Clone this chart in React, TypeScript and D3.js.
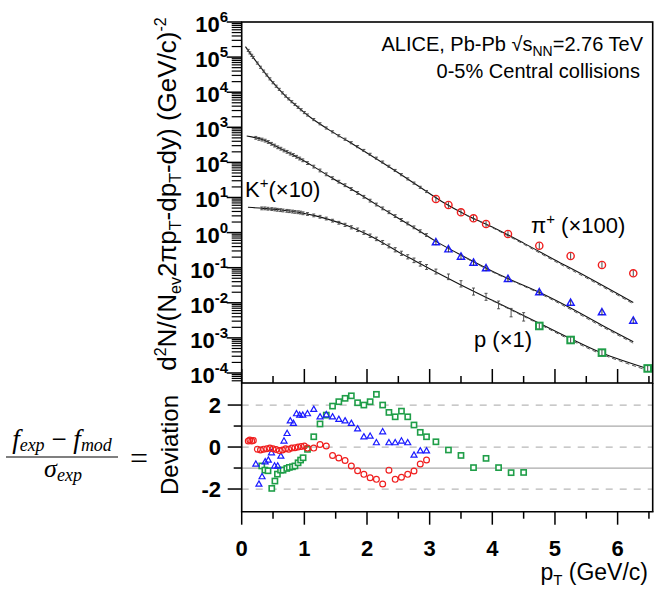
import React from 'react';
import * as d3 from 'd3';

// ---------------- DATA ----------------
// x axis ticks
const xMajorTicks = [0, 1, 2, 3, 4, 5, 6];
const xMinorTicks = [0.5, 1.5, 2.5, 3.5, 4.5, 5.5, 6.5];
const yExponents = [6, 5, 4, 3, 2, 1, 0, -1, -2, -3, -4];
const devMajorTicks = [2, 0, -2];
const devMinorTicks = [1, -1];
const devDashed = [2, 0, -2];
const devSolid = [1, -1];

// Model curves: pT and log10(yield)
const piModelPt = [0.06, 0.2, 0.35, 0.5, 0.7, 0.9, 1.1, 1.4, 1.7, 2.0, 2.4, 2.8, 3.2, 3.6, 4.0, 4.5, 5.0, 5.5, 6.25];
const piModelLog = [5.30, 4.95, 4.60, 4.27, 3.89, 3.57, 3.28, 2.92, 2.60, 2.27, 1.82, 1.35, 0.88, 0.49, 0.16, -0.30, -0.78, -1.25, -1.99];
const piModel2Pt = [3.6, 4.0, 4.5, 5.0, 5.5, 6.25];
const piModel2Log = [0.48, 0.14, -0.33, -0.82, -1.29, -2.03];

const kModelPt = [0.08, 0.35, 0.6, 0.9, 1.15, 1.4, 1.7, 1.95, 2.2, 2.5, 2.85, 3.1, 3.5, 4.0, 4.25, 4.75, 5.25, 5.75, 6.25];
const kModelLog = [2.75, 2.64, 2.41, 2.14, 1.88, 1.60, 1.29, 1.02, 0.74, 0.41, 0.03, -0.25, -0.64, -1.10, -1.31, -1.70, -2.15, -2.64, -3.11];
const kModel2Pt = [3.5, 4.0, 4.75, 5.25, 5.75, 6.25];
const kModel2Log = [-0.65, -1.12, -1.73, -2.19, -2.68, -3.15];

const pModelPt = [0.1, 0.35, 0.6, 0.9, 1.15, 1.4, 1.7, 2.0, 2.25, 2.5, 2.75, 3.0, 3.5, 4.0, 4.75, 5.25, 5.75, 6.52];
const pModelLog = [0.72, 0.69, 0.65, 0.58, 0.49, 0.37, 0.19, -0.05, -0.29, -0.55, -0.79, -1.03, -1.49, -1.93, -2.58, -3.02, -3.43, -3.90];
const pModel2Pt = [4.0, 4.75, 5.25, 5.75, 6.52];
const pModel2Log = [-1.94, -2.61, -3.06, -3.47, -3.95];

// Measured spectra (black points), pT and log10(yield)
const piPt = [0.105, 0.13, 0.16, 0.185, 0.25, 0.30, 0.35, 0.40, 0.45, 0.50, 0.55, 0.60, 0.65, 0.70, 0.75, 0.80, 0.85, 0.90, 0.95, 1.00,
  1.05, 1.15, 1.25, 1.35, 1.45, 1.55, 1.65, 1.75, 1.85, 1.95, 2.05, 2.15, 2.25, 2.35, 2.45, 2.55, 2.65, 2.75, 2.85, 2.95];
const piLog = [5.19, 5.12, 5.05, 4.99, 4.83, 4.71, 4.60, 4.49, 4.38, 4.27, 4.17, 4.08, 3.98, 3.89, 3.81, 3.73, 3.65, 3.57, 3.50, 3.42,
  3.35, 3.22, 3.10, 2.98, 2.87, 2.76, 2.66, 2.56, 2.45, 2.34, 2.23, 2.12, 2.01, 1.89, 1.77, 1.65, 1.53, 1.41, 1.29, 1.17];
const piDev = [0.29, 0.33, 0.29, 0.31, -0.10, -0.14, -0.10, -0.08, -0.05, -0.08, -0.12, -0.17, -0.14, -0.08, -0.10, -0.05, -0.03, 0.00, 0.03, 0.05,
  -0.05, -0.05, 0.12, 0.05, -0.40, -0.52, -0.64, -0.90, -1.13, -1.30, -1.46, -1.54, -1.76, -1.10, -1.54, -1.44, -1.30, -1.14, -0.81, -0.62];

const kPt = [0.225, 0.275, 0.325, 0.375, 0.425, 0.475, 0.525, 0.575, 0.625, 0.675, 0.725, 0.775, 0.825, 0.875, 0.925, 0.975,
  1.05, 1.15, 1.25, 1.35, 1.45, 1.55, 1.65, 1.75, 1.85, 1.95, 2.05, 2.15, 2.25, 2.35, 2.45, 2.55, 2.65, 2.75, 2.85, 2.95];
const kLog = [2.70, 2.67, 2.65, 2.62, 2.58, 2.53, 2.48, 2.43, 2.39, 2.34, 2.30, 2.25, 2.21, 2.16, 2.11, 2.06,
  1.98, 1.88, 1.77, 1.66, 1.55, 1.45, 1.35, 1.24, 1.13, 1.02, 0.91, 0.80, 0.69, 0.58, 0.47, 0.36, 0.26, 0.15, 0.04, -0.07];
const kDev = [-0.81, -1.76, -1.41, -0.70, -0.62, -0.27, -0.90, -0.90, -0.43, 0.29, 0.65, 1.25, 1.13, 1.59, 1.52, 1.52,
  1.59, 1.80, 1.44, 1.54, 1.44, 1.32, 1.25, 1.13, 0.87, 0.49, 0.52, 0.21, 0.73, 0.21, 0.21, 0.29, 0.21, -0.38, -0.18, -0.18];

const pPt = [0.32, 0.37, 0.42, 0.48, 0.53, 0.57, 0.62, 0.66, 0.72, 0.76, 0.81, 0.85, 0.90, 0.94, 0.98,
  1.05, 1.15, 1.25, 1.35, 1.45, 1.55, 1.65, 1.75, 1.85, 1.95, 2.05, 2.15, 2.25, 2.35, 2.45, 2.55, 2.65, 2.75, 2.85, 2.95,
  3.1, 3.3, 3.5, 3.7, 3.9, 4.1, 4.3, 4.5];
const pLog = [0.69, 0.69, 0.68, 0.67, 0.66, 0.65, 0.64, 0.63, 0.62, 0.61, 0.60, 0.59, 0.58, 0.57, 0.55,
  0.53, 0.49, 0.45, 0.40, 0.34, 0.28, 0.22, 0.15, 0.08, 0.00, -0.09, -0.18, -0.28, -0.38, -0.49, -0.59, -0.69, -0.79, -0.89, -0.98,
  -1.11, -1.26, -1.46, -1.68, -1.83, -2.06, -2.28, -2.40];
const pDev = [-0.90, -1.10, -1.13, -1.97, -1.62, -1.29, -1.10, -1.10, -1.02, -0.97, -0.94, -0.90, -0.75, -0.62, -0.51,
  -0.11, 0.49, 1.10, 1.52, 1.95, 2.16, 2.32, 2.44, 2.11, 2.00, 2.16, 2.51, 2.00, 1.65, 1.44, 1.71, 1.44, 1.05, 0.70, 0.49,
  0.25, -0.14, -0.40, -0.98, -0.54, -0.98, -1.22, -1.21];
const pErrLog = [0.04, 0.04, 0.04, 0.04, 0.04, 0.04, 0.04, 0.04, 0.04, 0.04, 0.04, 0.04, 0.04, 0.04, 0.04,
  0.04, 0.04, 0.04, 0.04, 0.04, 0.04, 0.045, 0.045, 0.05, 0.05, 0.05, 0.05, 0.055, 0.055, 0.06, 0.06, 0.06, 0.065, 0.065, 0.07,
  0.07, 0.08, 0.09, 0.1, 0.1, 0.11, 0.12, 0.12];

// High-pT measured points (coloured markers)
const piHiPt = [3.1, 3.3, 3.5, 3.7, 3.9, 4.25, 4.75, 5.25, 5.75, 6.25];
const piHiLog = [0.957, 0.786, 0.578, 0.407, 0.245, -0.040, -0.373, -0.667, -0.923, -1.160];
const kHiPt = [3.1, 3.3, 3.5, 3.7, 3.9, 4.25, 4.75, 5.25, 5.75, 6.25];
const kHiLog = [-0.276, -0.476, -0.686, -0.857, -1.017, -1.322, -1.70, -2.00, -2.27, -2.51];
const pHiPt = [4.75, 5.25, 5.75, 6.48];
const pHiLog = [-2.66, -3.06, -3.42, -3.87];

// ---------------- LAYOUT ----------------
const W = 655, H = 590;
const X0 = 241.7, X1 = 652.7;
const T0 = 22, T1 = 383, B1 = 511.7;
const RED = '#f01e1e', BLUE = '#1a1aff', GREEN = '#1f9e48';
const SANS = "'Liberation Sans', Arial, sans-serif";
const SERIF = "'Liberation Serif', 'Times New Roman', serif";

const x = d3.scaleLinear().domain([0, 6.56]).range([X0, X1]);
const yT = d3.scaleLog().domain([Math.pow(10, -4.285), 1e6]).range([T1, T0]);
const yD = d3.scaleLinear().domain([-3.08, 3.05]).range([B1, T1]);
const pw = (l: number) => Math.pow(10, l);

function modelPath(pts: number[], logs: number[]) {
  const data = pts.map((p, i) => [p, logs[i]] as [number, number]);
  return d3.line<[number, number]>().x(d => x(d[0])).y(d => yT(pw(d[1]))).curve(d3.curveCatmullRom.alpha(0.5))(data) || '';
}

function ErrBars({ pts, logs, err }: { pts: number[]; logs: number[]; err: (i: number) => number }) {
  return (
    <g stroke="#444" strokeWidth={0.9} fill="none">
      {pts.map((p, i) => {
        const cx = x(p);
        const y1 = yT(pw(logs[i] + err(i)));
        const y2 = yT(pw(logs[i] - err(i)));
        return (
          <g key={i}>
            <line x1={cx} x2={cx} y1={y1} y2={y2} />
            <line x1={cx - 1.5} x2={cx + 1.5} y1={y1} y2={y1} />
            <line x1={cx - 1.5} x2={cx + 1.5} y1={y2} y2={y2} />
          </g>
        );
      })}
    </g>
  );
}

function Marker({ kind, cx, cy, s, color, sw }: { kind: string; cx: number; cy: number; s: number; color: string; sw: number }) {
  if (kind === 'circle') return <circle cx={cx} cy={cy} r={s} fill="none" stroke={color} strokeWidth={sw} />;
  if (kind === 'tri') {
    const d = `M${cx},${cy - s * 1.05}L${cx + s},${cy + s * 0.7}L${cx - s},${cy + s * 0.7}Z`;
    return <path d={d} fill="none" stroke={color} strokeWidth={sw} strokeLinejoin="miter" />;
  }
  return <rect x={cx - s} y={cy - s} width={2 * s} height={2 * s} fill="#fff" stroke={color} strokeWidth={sw} />;
}

export default function App() {
  const minorLog: number[] = [];
  for (let e = -5; e <= 5; e++) {
    for (let m = 2; m <= 9; m++) {
      const v = m * Math.pow(10, e);
      if (v > yT.domain()[0] && v < 1e6) minorLog.push(v);
    }
  }

  const hiSeries = [
    { pts: piHiPt, logs: piHiLog, kind: 'circle', color: RED, s: 3.6, sw: 1.4 },
    { pts: kHiPt, logs: kHiLog, kind: 'tri', color: BLUE, s: 3.6, sw: 1.4 },
    { pts: pHiPt, logs: pHiLog, kind: 'square', color: GREEN, s: 3.3, sw: 2 },
  ];
  const devSeries = [
    { pts: pPt, dev: pDev, kind: 'square', color: GREEN, s: 2.6, sw: 1.6 },
    { pts: kPt, dev: kDev, kind: 'tri', color: BLUE, s: 3.0, sw: 1.2 },
    { pts: piPt, dev: piDev, kind: 'circle', color: RED, s: 2.9, sw: 1.2 },
  ];

  return (
    <svg width={W} height={H} style={{ position: 'absolute', left: 0, top: 0, background: '#fff' }} fontFamily={SANS}>
      <rect width={W} height={H} fill="#fff" />

      {/* ---------- bottom panel grid ---------- */}
      {devDashed.map(v => (
        <line key={'dd' + v} x1={X0} x2={X1} y1={yD(v)} y2={yD(v)} stroke="#b8b8b8" strokeWidth={1.2} strokeDasharray="7,7" />
      ))}
      {devSolid.map(v => (
        <line key={'ds' + v} x1={X0} x2={X1} y1={yD(v)} y2={yD(v)} stroke="#aaaaaa" strokeWidth={1.2} />
      ))}

      {/* ---------- model curves ---------- */}
      <g fill="none" stroke="#111" strokeWidth={1.1}>
        <path d={modelPath(piModelPt, piModelLog)} />
        <path d={modelPath(kModelPt, kModelLog)} />
        <path d={modelPath(pModelPt, pModelLog)} />
      </g>
      <g fill="none" stroke="#555" strokeWidth={1.0} strokeDasharray="4,3">
        <path d={modelPath(piModel2Pt, piModel2Log)} />
        <path d={modelPath(kModel2Pt, kModel2Log)} />
        <path d={modelPath(pModel2Pt, pModel2Log)} />
      </g>

      {/* ---------- measured points ---------- */}
      <ErrBars pts={piPt} logs={piLog} err={() => 0.03} />
      <ErrBars pts={kPt} logs={kLog} err={() => 0.04} />
      <ErrBars pts={pPt} logs={pLog} err={i => pErrLog[i]} />

      {hiSeries.map((s, si) => (
        <g key={'hs' + si}>
          {s.pts.map((p, i) => {
            const cx = x(p), cy = yT(pw(s.logs[i]));
            return (
              <g key={i}>
                <Marker kind={s.kind} cx={cx} cy={cy} s={s.s} color={s.color} sw={s.sw} />
                <line x1={cx} x2={cx} y1={cy - s.s * 0.8} y2={cy + s.s * 0.8} stroke="#333" strokeWidth={0.9} />
              </g>
            );
          })}
        </g>
      ))}

      {devSeries.map((s, si) => (
        <g key={'ds' + si}>
          {s.pts.map((p, i) => (
            <Marker key={i} kind={s.kind} cx={x(p)} cy={yD(s.dev[i])} s={s.s} color={s.color} sw={s.sw} />
          ))}
        </g>
      ))}

      {/* ---------- frames ---------- */}
      <rect x={X0} y={T0} width={X1 - X0} height={T1 - T0} fill="none" stroke="#000" strokeWidth={1.6} />
      <line x1={X0} x2={X0} y1={T1} y2={B1} stroke="#000" strokeWidth={1.6} />
      <line x1={X1} x2={X1} y1={T1} y2={B1} stroke="#000" strokeWidth={1.6} />
      <line x1={X0 - 0.8} x2={X1 + 0.8} y1={B1} y2={B1} stroke="#000" strokeWidth={1.6} />

      {/* top panel y ticks */}
      <g stroke="#000">
        {yExponents.map(e => (
          <line key={'ym' + e} x1={X0 - 15} x2={X0} y1={yT(pw(e))} y2={yT(pw(e))} strokeWidth={1.5} />
        ))}
        {minorLog.map((v, i) => (
          <line key={'yn' + i} x1={X0 - 10} x2={X0} y1={yT(v)} y2={yT(v)} strokeWidth={1.2} />
        ))}
      </g>
      <g fontWeight="bold" fontSize={22} textAnchor="end">
        {yExponents.map(e => (
          <text key={'yl' + e} x={228} y={yT(pw(e)) + 10}>
            10<tspan fontSize={15} dy={-10}>{e}</tspan>
          </text>
        ))}
      </g>

      {/* top panel bottom-edge ticks (inside) */}
      <g stroke="#000" strokeWidth={1.5}>
        {xMajorTicks.map(t => <line key={'tt' + t} x1={x(t)} x2={x(t)} y1={T1} y2={T1 - 14} />)}
        {xMinorTicks.map(t => <line key={'tn' + t} x1={x(t)} x2={x(t)} y1={T1} y2={T1 - 7} />)}
      </g>

      {/* bottom x axis ticks */}
      <g stroke="#000" strokeWidth={1.5}>
        {xMajorTicks.map(t => <line key={'bt' + t} x1={x(t)} x2={x(t)} y1={B1} y2={B1 + 13} />)}
        {xMinorTicks.map(t => <line key={'bn' + t} x1={x(t)} x2={x(t)} y1={B1} y2={B1 + 7} />)}
      </g>
      <g fontWeight="bold" fontSize={22} textAnchor="middle">
        {xMajorTicks.map(t => <text key={'bl' + t} x={x(t)} y={556}>{t}</text>)}
      </g>

      {/* deviation y ticks */}
      <g stroke="#000" strokeWidth={1.5}>
        {devMajorTicks.map(v => <line key={'dm' + v} x1={X0 - 14} x2={X0} y1={yD(v)} y2={yD(v)} />)}
        {devMinorTicks.map(v => <line key={'dn' + v} x1={X0 - 8} x2={X0} y1={yD(v)} y2={yD(v)} />)}
      </g>
      <g fontWeight="bold" fontSize={22} textAnchor="end">
        {devMajorTicks.map(v => <text key={'dl' + v} x={221} y={yD(v) + 8}>{v}</text>)}
      </g>

      {/* axis titles */}
      <text transform="translate(176,194) rotate(-90)" textAnchor="middle" fontSize={26}>
        d<tspan fontSize={16} dy={-10}>2</tspan><tspan dy={10}>N/(N</tspan><tspan fontSize={16} dy={5}>ev</tspan>
        <tspan dy={-5}>2πp</tspan><tspan fontSize={16} dy={5}>T</tspan><tspan dy={-5}>-dp</tspan>
        <tspan fontSize={16} dy={5}>T</tspan><tspan dy={-5}>-dy)  (GeV/c)</tspan><tspan fontSize={16} dy={-10}>-2</tspan>
      </text>
      <text transform="translate(178,445) rotate(-90)" textAnchor="middle" fontSize={24}>Deviation</text>
      <text x={648} y={580} textAnchor="end" fontSize={23}>
        p<tspan fontSize={15} dy={5}>T</tspan><tspan dy={-5}> (GeV/c)</tspan>
      </text>

      {/* formula */}
      <text x={62} y={448} textAnchor="middle" fontFamily={SERIF} fontStyle="italic" fontSize={27} xmlSpace="preserve">
        f<tspan fontSize={18} dy={3}>exp</tspan><tspan dy={-3} fontStyle="normal">{' − '}</tspan>f<tspan fontSize={18} dy={3}>mod</tspan>
      </text>
      <line x1={6} x2={118} y1={457} y2={457} stroke="#000" strokeWidth={1.1} />
      <text x={63} y={477} textAnchor="middle" fontFamily={SERIF} fontStyle="italic" fontSize={26}>
        σ<tspan fontSize={18} dy={4}>exp</tspan>
      </text>
      <text x={139} y={469} textAnchor="middle" fontFamily={SERIF} fontSize={32}>=</text>

      {/* annotations */}
      <text x={643} y={51} textAnchor="end" fontSize={20}>
        ALICE, Pb-Pb √s<tspan fontSize={14} dy={5}>NN</tspan><tspan dy={-5}>=2.76 TeV</tspan>
      </text>
      <text x={640} y={78} textAnchor="end" fontSize={20}>0-5% Central collisions</text>
      <text x={245} y={197} fontSize={22}>
        K<tspan fontSize={15} dy={-9}>+</tspan><tspan dy={9}>(×10)</tspan>
      </text>
      <text x={531} y={233} fontSize={22}>
        π<tspan fontSize={15} dy={-9}>+</tspan><tspan dy={9}> (×100)</tspan>
      </text>
      <text x={474} y={347} fontSize={22}>p (×1)</text>
    </svg>
  );
}
